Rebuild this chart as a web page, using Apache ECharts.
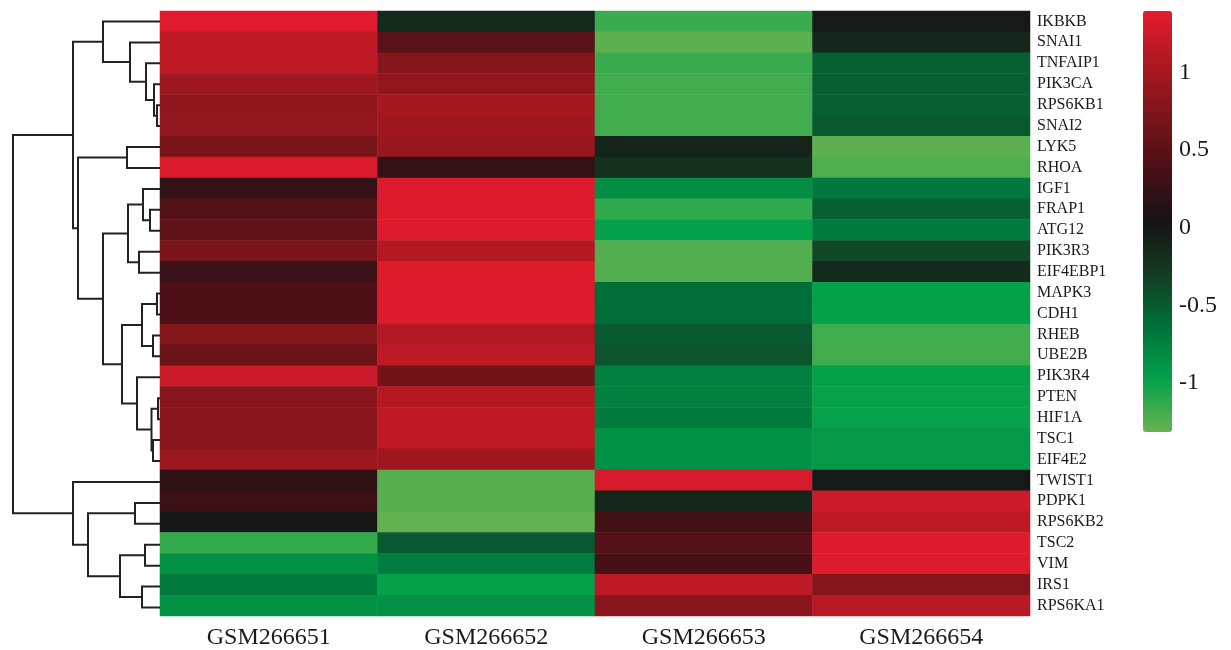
<!DOCTYPE html>
<html>
<head>
<meta charset="utf-8">
<title>heatmap</title>
<script src="https://cdn.jsdelivr.net/npm/echarts@6.0.0/dist/echarts.min.js"></script>
<style>
    html, body { margin: 0; padding: 0; background: #fff; }
    #main { width: 1231px; height: 650px; }
</style>
</head>
<body>
<div id="main"></div>
<script>
// samples (columns)
const samples = ['GSM266651', 'GSM266652', 'GSM266653', 'GSM266654']
// genes, top to bottom
const genes = [
    'IKBKB', 'SNAI1', 'TNFAIP1', 'PIK3CA', 'RPS6KB1', 'SNAI2', 'LYK5', 'RHOA',
    'IGF1', 'FRAP1', 'ATG12', 'PIK3R3', 'EIF4EBP1', 'MAPK3', 'CDH1', 'RHEB',
    'UBE2B', 'PIK3R4', 'PTEN', 'HIF1A', 'TSC1', 'EIF4E2', 'TWIST1', 'PDPK1',
    'RPS6KB2', 'TSC2', 'VIM', 'IRS1', 'RPS6KA1'
]
// one value per sample for each gene
const GSM266651 = [1.37, 1.16, 1.16, 0.96, 0.86, 0.87, 0.71, 1.34, 0.24, 0.45, 0.52, 0.71, 0.27, 0.40, 0.40, 0.78, 0.62, 1.24, 0.80, 0.80, 0.80, 0.94, 0.20, 0.29, 0.00, -1.14, -0.86, -0.70, -0.86]
const GSM266652 = [-0.15, 0.49, 0.78, 0.88, 1.01, 0.97, 0.91, 0.24, 1.35, 1.35, 1.35, 1.09, 1.35, 1.35, 1.35, 1.08, 1.17, 0.66, 1.09, 1.16, 1.16, 0.97, -1.26, -1.26, -1.30, -0.49, -0.71, -0.96, -0.86]
const GSM266653 = [-1.16, -1.28, -1.16, -1.18, -1.18, -1.18, -0.10, -0.20, -0.84, -1.12, -0.96, -1.24, -1.24, -0.62, -0.62, -0.49, -0.45, -0.74, -0.74, -0.71, -0.86, -0.86, 1.31, -0.11, 0.32, 0.45, 0.36, 1.17, 0.82]
const GSM266654 = [-0.01, -0.11, -0.53, -0.53, -0.52, -0.48, -1.28, -1.23, -0.69, -0.53, -0.71, -0.38, -0.15, -0.96, -0.96, -1.18, -1.18, -0.96, -0.98, -0.98, -0.91, -0.91, -0.01, 1.24, 1.17, 1.35, 1.35, 0.78, 1.11]

// row dendrogram, scipy style: [left, right, height]; index < 29 = gene row, 29 + k = k-th merge
const merges = [
    [4, 5, 0.3], [3, 29, 0.6], [2, 30, 1.4], [1, 31, 3.0], [0, 32, 5.7],
    [6, 7, 3.3], [9, 10, 1.0], [8, 35, 1.7], [11, 12, 2.1], [36, 37, 3.2],
    [13, 14, 0.3], [15, 16, 0.7], [39, 40, 1.8], [18, 19, 0.2], [20, 21, 0.7],
    [42, 43, 0.85], [17, 44, 2.3], [41, 45, 3.8], [38, 46, 5.7], [34, 47, 8.2],
    [33, 48, 8.7], [23, 24, 2.5], [25, 26, 1.5], [27, 28, 1.8], [51, 52, 4.0],
    [50, 53, 7.2], [22, 54, 8.7], [49, 55, 14.7]
]

// colour scale
const scaleMin = -1.316
const scaleMax = 1.395
const colorbarTicks = [-1, -0.5, 0, 0.5, 1]
const scaleColors = ['#68B250', '#05A24B', '#00713A', '#143D22', '#151315', '#4A1016', '#7A1419', '#AE1822', '#E41B2E']

const cols = [GSM266651, GSM266652, GSM266653, GSM266654]
let heatData = []
cols.forEach((col, ci) => {
    col.forEach((v, ri) => {
        heatData.push([ci, ri, v])
    })
})

// dendrogram segments
let nodes = genes.map((g, i) => ({ y: i, h: 0 }))
let treeLines = []
merges.forEach(m => {
    const a = nodes[m[0]]
    const b = nodes[m[1]]
    treeLines.push({ coords: [[a.h, a.y], [m[2], a.y], [m[2], b.y], [b.h, b.y]] })
    nodes.push({ y: (a.y + b.y) / 2, h: m[2] })
})

const myChart = echarts.init(document.getElementById('main'))
const fontColor = '#1a1a1a'
const serif = 'Liberation Serif'

let option = {
    backgroundColor: '#fff',
    animation: false,
    textStyle: { fontFamily: serif },
    grid: [
        { left: 160, top: 11, width: 870, height: 607 },
        { left: 10, top: 11, width: 150, height: 607 },
        { left: 1143, top: 11, width: 29, height: 421 }
    ],
    xAxis: [
        {
            type: 'category',
            gridIndex: 0,
            data: samples,
            position: 'bottom',
            axisLine: { show: false },
            axisTick: { show: false },
            splitLine: { show: false },
            axisLabel: { color: fontColor, fontSize: 24, fontFamily: serif, margin: 10 }
        },
        {
            type: 'value',
            gridIndex: 1,
            min: 0,
            max: 15,
            inverse: true,
            show: false
        },
        {
            type: 'value',
            gridIndex: 2,
            show: false
        }
    ],
    yAxis: [
        {
            type: 'category',
            gridIndex: 0,
            data: genes,
            inverse: true,
            position: 'right',
            axisLine: { show: false },
            axisTick: { show: false },
            splitLine: { show: false },
            axisLabel: { color: fontColor, fontSize: 16, fontFamily: serif, margin: 7 }
        },
        {
            type: 'value',
            gridIndex: 1,
            min: -0.5,
            max: genes.length - 0.5,
            inverse: true,
            show: false
        },
        {
            type: 'value',
            gridIndex: 2,
            min: scaleMin,
            max: scaleMax,
            position: 'right',
            axisLine: { show: false },
            axisTick: { show: false },
            splitLine: { show: false },
            axisLabel: {
                customValues: colorbarTicks,
                color: fontColor,
                fontSize: 24,
                fontFamily: serif,
                margin: 7,
                formatter: v => String(v)
            }
        }
    ],
    visualMap: {
        type: 'continuous',
        seriesIndex: 0,
        min: scaleMin,
        max: scaleMax,
        calculable: false,
        orient: 'vertical',
        left: 1143,
        top: 11,
        padding: 0,
        itemWidth: 29,
        itemHeight: 421,
        text: null,
        inRange: { color: scaleColors }
    },
    series: [
        {
            type: 'heatmap',
            xAxisIndex: 0,
            yAxisIndex: 0,
            data: heatData,
            itemStyle: { borderWidth: 0 },
            emphasis: { disabled: true }
        },
        {
            type: 'lines',
            coordinateSystem: 'cartesian2d',
            xAxisIndex: 1,
            yAxisIndex: 1,
            polyline: true,
            clip: false,
            silent: true,
            lineStyle: { color: '#222', width: 2, opacity: 1 },
            data: treeLines
        }
    ]
}
myChart.setOption(option)
</script>
</body>
</html>
